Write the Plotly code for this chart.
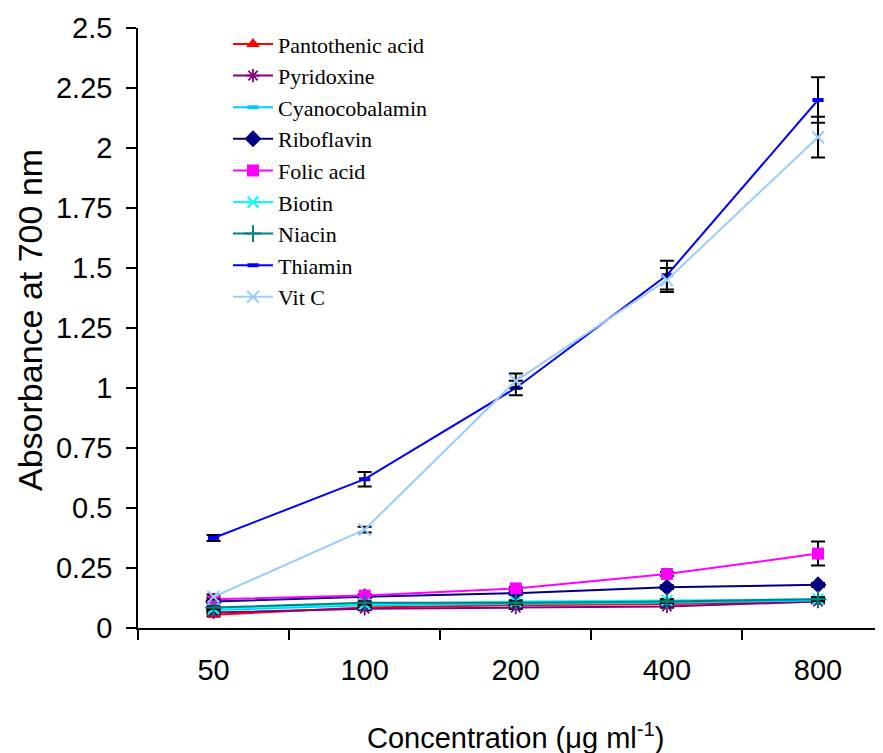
import plotly.graph_objects as go

concentrations = ["50", "100", "200", "400", "800"]

series_names = ["Pantothenic acid", "Pyridoxine", "Cyanocobalamin", "Riboflavin",
                "Folic acid", "Biotin", "Niacin", "Thiamin", "Vit C"]

pantothenic = [0.055, 0.085, 0.095, 0.100, 0.110]
pyridoxine = [0.065, 0.080, 0.085, 0.090, 0.110]
cyanocobalamin = [0.075, 0.095, 0.100, 0.105, 0.115]
riboflavin = [0.110, 0.130, 0.145, 0.170, 0.180]
folic = [0.120, 0.135, 0.165, 0.225, 0.310]
biotin = [0.080, 0.100, 0.110, 0.115, 0.120]
niacin = [0.085, 0.105, 0.105, 0.110, 0.120]
thiamin = [0.375, 0.620, 1.000, 1.470, 2.200]
vitc = [0.130, 0.410, 1.030, 1.450, 2.045]

err_pantothenic = [0.006, 0.006, 0.006, 0.006, 0.006]
err_pyridoxine = [0.006, 0.006, 0.006, 0.006, 0.006]
err_cyanocobalamin = [0.006, 0.006, 0.006, 0.006, 0.008]
err_riboflavin = [0.006, 0.006, 0.006, 0.008, 0.008]
err_folic = [0.008, 0.006, 0.006, 0.008, 0.050]
err_biotin = [0.006, 0.006, 0.006, 0.006, 0.008]
err_niacin = [0.006, 0.006, 0.006, 0.006, 0.008]
err_thiamin = [0.012, 0.030, 0.030, 0.060, 0.095]
err_vitc = [0.010, 0.012, 0.030, 0.050, 0.085]

y_ticks = [0, 0.25, 0.5, 0.75, 1, 1.25, 1.5, 1.75, 2, 2.25, 2.5]
y_ticktext = ["0", "0.25", "0.5", "0.75", "1", "1.25", "1.5", "1.75", "2", "2.25", "2.5"]

values = [pantothenic, pyridoxine, cyanocobalamin, riboflavin, folic, biotin, niacin, thiamin, vitc]
errors = [err_pantothenic, err_pyridoxine, err_cyanocobalamin, err_riboflavin, err_folic,
          err_biotin, err_niacin, err_thiamin, err_vitc]

styles = [
    dict(color="#FF0000", symbol="triangle-up", size=12, lw=0),
    dict(color="#800080", symbol="asterisk-open", size=11, lw=1.8),
    dict(color="#00CCFF", symbol="line-ew-open", size=8, lw=4),
    dict(color="#000080", symbol="diamond", size=13, lw=0),
    dict(color="#FF00FF", symbol="square", size=12, lw=0),
    dict(color="#00FFFF", symbol="x-thin-open", size=11, lw=2),
    dict(color="#008080", symbol="cross-thin-open", size=12, lw=2),
    dict(color="#0000FF", symbol="line-ew-open", size=8, lw=4),
    dict(color="#99CCFF", symbol="x-thin-open", size=12, lw=2),
]

fig = go.Figure()
for name, vals, errs, st in zip(series_names, values, errors, styles):
    fig.add_trace(go.Scatter(
        x=concentrations, y=vals, name=name, mode="lines+markers",
        legendgroup=name,
        line=dict(color=st["color"], width=2),
        marker=dict(symbol=st["symbol"], size=st["size"], color=st["color"],
                    line=dict(color=st["color"], width=st["lw"])),
        error_y=dict(type="data", array=errs, visible=True, color="black",
                     thickness=2, width=7),
        cliponaxis=False,
    ))

fig.update_layout(
    width=875, height=745,
    margin=dict(l=130, r=0, t=20, b=125, autoexpand=False),
    paper_bgcolor="white", plot_bgcolor="white",
    font=dict(family="Liberation Sans, Arial", color="black"),
    showlegend=True,
    legend=dict(
        x=(228 - 138) / 745, y=1.008, xanchor="left", yanchor="top",
        font=dict(family="Liberation Serif, Times New Roman", size=22, color="black"),
        bgcolor="rgba(0,0,0,0)", tracegroupgap=0, itemwidth=40,
    ),
    xaxis=dict(
        type="category", categoryorder="array", categoryarray=concentrations,
        range=[-0.5, 4.43], showgrid=False, zeroline=False, automargin=False,
        showline=True, linecolor="black", linewidth=1.5,
        ticks="outside", ticklen=10, tickwidth=1.5, tickcolor="black",
        tickson="boundaries", ticklabelstandoff=15,
        tickfont=dict(size=29, family="Liberation Sans, Arial", color="black"),
    ),
    yaxis=dict(
        range=[0, 2.5], showgrid=False, zeroline=False, automargin=False,
        showline=True, linecolor="black", linewidth=1.5,
        ticks="outside", ticklen=10, tickwidth=1.5, tickcolor="black",
        tickvals=y_ticks, ticktext=y_ticktext, ticklabelstandoff=8,
        tickfont=dict(size=29, family="Liberation Sans, Arial", color="black"),
    ),
    annotations=[
        dict(text="Absorbance at 700 nm", textangle=-90, showarrow=False,
             xref="paper", yref="paper", x=(30 - 138) / 745, y=(628 - 320) / 600,
             xanchor="center", yanchor="middle",
             font=dict(size=34, family="Liberation Sans, Arial", color="black")),
        dict(text="Concentration (\u03bcg ml<sup>-1</sup>)", showarrow=False,
             xref="paper", yref="paper", x=(515 - 138) / 745, y=(628 - 736) / 600,
             xanchor="center", yanchor="middle",
             font=dict(size=29, family="Liberation Sans, Arial", color="black")),
    ],
)

fig.write_html("out.html")
